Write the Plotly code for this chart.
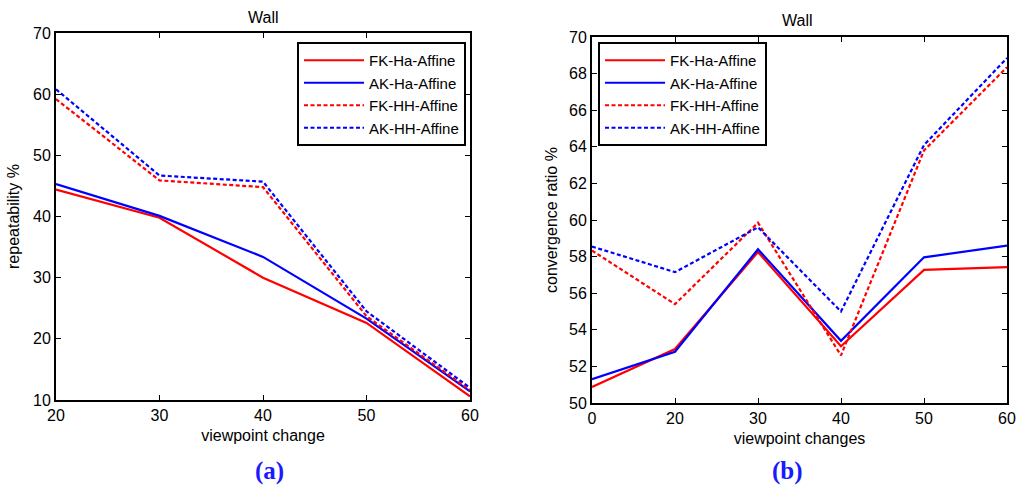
import plotly.graph_objects as go

# Panel (a)
x_a = [20, 30, 40, 50, 60]
fk_ha_a = [44.4, 39.8, 30.0, 22.6, 10.6]
ak_ha_a = [45.3, 40.1, 33.4, 23.3, 11.4]
fk_hh_a = [59.2, 45.9, 44.8, 23.7, 11.6]
ak_hh_a = [60.8, 46.7, 45.7, 24.5, 12.0]

# Panel (b)
x_b = ["0", "20", "30", "40", "50", "60"]
fk_ha_b = [50.87, 52.95, 58.25, 53.1, 57.27, 57.42]
ak_ha_b = [51.3, 52.8, 58.4, 53.4, 57.96, 58.6]
fk_hh_b = [58.33, 55.4, 59.85, 52.6, 63.8, 68.35]
ak_hh_b = [58.55, 57.15, 59.6, 55.0, 64.1, 68.85]

names = ["FK-Ha-Affine", "AK-Ha-Affine", "FK-HH-Affine", "AK-HH-Affine"]
colors = ["#ff0000", "#0000ff", "#ff0000", "#0000ff"]
dashes = ["solid", "solid", "4px,2.5px", "4px,2.5px"]

FONT = "Liberation Sans, Arial, sans-serif"

fig = go.Figure()
for ys, nm, c, d in zip([fk_ha_a, ak_ha_a, fk_hh_a, ak_hh_a], names, colors, dashes):
    fig.add_trace(go.Scatter(x=x_a, y=ys, name=nm, mode="lines",
                             line=dict(color=c, width=2.2, dash=d),
                             xaxis="x", yaxis="y", legend="legend"))
for ys, nm, c, d in zip([fk_ha_b, ak_ha_b, fk_hh_b, ak_hh_b], names, colors, dashes):
    fig.add_trace(go.Scatter(x=x_b, y=ys, name=nm, mode="lines",
                             line=dict(color=c, width=2.2, dash=d),
                             xaxis="x2", yaxis="y2", legend="legend2"))

W, H = 1018, 488
def px_x(p): return p / W
def px_y(p): return 1 - p / H

axis_common = dict(showline=True, linecolor="black", linewidth=2, mirror="ticks",
                   ticks="inside", ticklen=5, tickcolor="black", tickwidth=1,
                   showgrid=False, zeroline=False, automargin=False,
                   tickfont=dict(family=FONT, size=16, color="black"))
title_font = dict(family=FONT, size=16, color="black")
legend_common = dict(xanchor="left", yanchor="top",
                     bgcolor="white", bordercolor="black", borderwidth=2,
                     font=dict(family=FONT, size=15, color="black"),
                     itemwidth=60, tracegroupgap=0)

def note(text, x, y, font):
    return dict(text=text, x=px_x(x), y=px_y(y), xref="paper", yref="paper",
                xanchor="center", yanchor="middle", showarrow=False, font=font)

wall_font = dict(family=FONT, size=16, color="black")
lab_font = dict(family="Liberation Serif, Times New Roman, serif", size=25, color="#1a1aff")

fig.update_layout(
    width=W, height=H,
    margin=dict(l=0, r=0, t=0, b=0, autoexpand=False),
    paper_bgcolor="white", plot_bgcolor="white",
    xaxis=dict(domain=[px_x(56), px_x(470)], range=[20, 60], tickvals=x_a,
               anchor="y",
               title=dict(text="viewpoint change", font=title_font, standoff=7),
               **axis_common),
    yaxis=dict(domain=[px_y(400), px_y(33)], range=[10, 70], dtick=10,
               anchor="x",
               title=dict(text="repeatability %", font=title_font, standoff=9),
               **axis_common),
    xaxis2=dict(domain=[px_x(592), px_x(1007)], type="category", range=[0, 5],
                anchor="y2",
                title=dict(text="viewpoint changes", font=title_font, standoff=7),
                **axis_common),
    yaxis2=dict(domain=[px_y(403), px_y(37)], range=[50, 70], dtick=2,
                anchor="x2",
                title=dict(text="convergence ratio %", font=title_font, standoff=7),
                **axis_common),
    legend=dict(x=px_x(297), y=px_y(42), **legend_common),
    legend2=dict(x=px_x(598), y=px_y(42), **legend_common),
    annotations=[
        note("Wall", 263, 18, wall_font),
        note("Wall", 797, 20, wall_font),
        note("<b>(a)</b>", 269, 471, lab_font),
        note("<b>(b)</b>", 787, 471, lab_font),
    ],
)

fig.write_html("out.html", config={"displayModeBar": False},
               post_script="document.body.style.margin='0';document.body.style.overflow='hidden';")
